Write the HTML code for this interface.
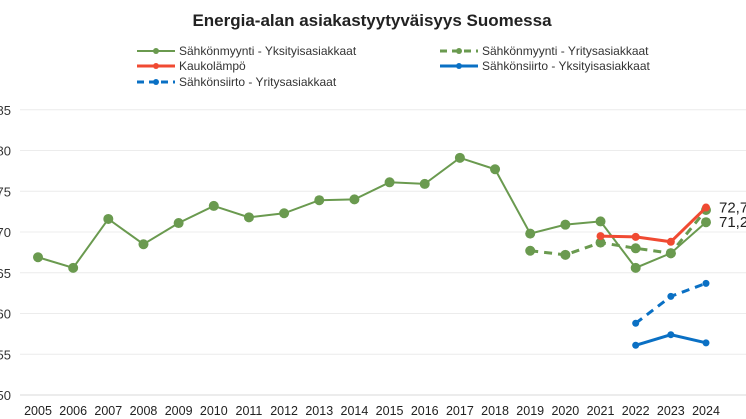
<!DOCTYPE html>
<html><head><meta charset="utf-8"><style>
body{margin:0;background:#fff}
svg{display:block;font-family:"Liberation Sans",sans-serif}
</style></head><body>
<svg id="c" width="746" height="419" viewBox="0 0 746 419">
<text x="372" y="26" text-anchor="middle" font-size="17" font-weight="bold" fill="#222">Energia-alan asiakastyytyväisyys Suomessa</text>
<g id="grid"></g><g id="legend"></g><g id="series"></g>
</svg>
<script>
const years=[2005,2006,2007,2008,2009,2010,2011,2012,2013,2014,2015,2016,2017,2018,2019,2020,2021,2022,2023,2024];
const yTicks=[50,55,60,65,70,75,80,85];
const myyntiYks=[66.9,65.6,71.6,68.5,71.1,73.2,71.8,72.3,73.9,74.0,76.1,75.9,79.1,77.7,69.8,70.9,71.3,65.6,67.4,71.2];
const myyntiYri=[null,null,null,null,null,null,null,null,null,null,null,null,null,null,67.7,67.2,68.7,68.0,67.4,72.7];
const kauko=[null,null,null,null,null,null,null,null,null,null,null,null,null,null,null,null,69.5,69.4,68.8,73.0];
const siirtoYks=[null,null,null,null,null,null,null,null,null,null,null,null,null,null,null,null,null,56.1,57.4,56.4];
const siirtoYri=[null,null,null,null,null,null,null,null,null,null,null,null,null,null,null,null,null,58.8,62.1,63.7];
const endLabels=["72,7","71,2"];
const NS="http://www.w3.org/2000/svg";
const x=i=>38+i*(668/19);
const y=v=>395-(v-50)*8.15;
function mk(t,a,p){const e=document.createElementNS(NS,t);for(const k in a)e.setAttribute(k,a[k]);p.appendChild(e);return e;}
const grid=document.getElementById('grid');
yTicks.forEach(t=>{
 const l=mk('line',{x1:20,x2:746,y1:y(t),y2:y(t),stroke:t===50?'#d9d9d9':'#ececec','stroke-width':1},grid);
 
 
 const tx=mk('text',{x:11,y:y(t)+5,'text-anchor':'end','font-size':13,fill:'#333'},grid);
 tx.textContent=t;
 
 
});
years.forEach((yr,i)=>{
 const tx=mk('text',{x:x(i),y:415,'text-anchor':'middle','font-size':12.5,fill:'#222'},grid);
 tx.textContent=yr;
 
 
});
const defs=[
 {d:myyntiYks,c:'#6a9a4f',w:2,dash:'',r:5,name:'Sähkönmyynti - Yksityisasiakkaat',lx:137,ly:51},
 {d:myyntiYri,c:'#6a9a4f',w:3,dash:'8,6',r:5,name:'Sähkönmyynti - Yritysasiakkaat',lx:440,ly:51},
 {d:kauko,c:'#f04a32',w:3,dash:'',r:4,name:'Kaukolämpö',lx:137,ly:66},
 {d:siirtoYks,c:'#0a70c4',w:3,dash:'',r:3.5,name:'Sähkönsiirto - Yksityisasiakkaat',lx:440,ly:66},
 {d:siirtoYri,c:'#0a70c4',w:3,dash:'8,6',r:3.5,name:'Sähkönsiirto - Yritysasiakkaat',lx:137,ly:82}
];
const S=document.getElementById('series'),L=document.getElementById('legend');
defs.forEach((s,k)=>{
 const g=mk('g',{},S);
 
 
 let pts=[];s.d.forEach((v,i)=>{if(v!=null)pts.push([x(i),y(v)]);});
 const pl=mk('polyline',{points:pts.map(p=>p.join(',')).join(' '),fill:'none',stroke:s.c,'stroke-width':s.w,'stroke-dasharray':s.dash},g);
 
 
 pts.forEach(p=>{const c=mk('circle',{cx:p[0],cy:p[1],r:s.r,fill:s.c},g);
  
  });
 const lg=mk('g',{},L);
 
 
 mk('line',{x1:s.lx,x2:s.lx+38,y1:s.ly,y2:s.ly,stroke:s.c,'stroke-width':s.w,'stroke-dasharray':s.dash?'7,5':''},lg);
 mk('circle',{cx:s.lx+19,cy:s.ly,r:3,fill:s.c},lg);
 const t=mk('text',{x:s.lx+42,y:s.ly+4,'font-size':12,fill:'#333'},lg);t.textContent=s.name;
});
[[kauko[19],endLabels[0]],[myyntiYks[19],endLabels[1]]].forEach(([v,lab],k)=>{
 const t=mk('text',{x:719,y:y(v)+(k===0?0:0)+5,'font-size':15,fill:'#222'},S);
 t.textContent=lab;
 
 
});
</script>
</body></html>
